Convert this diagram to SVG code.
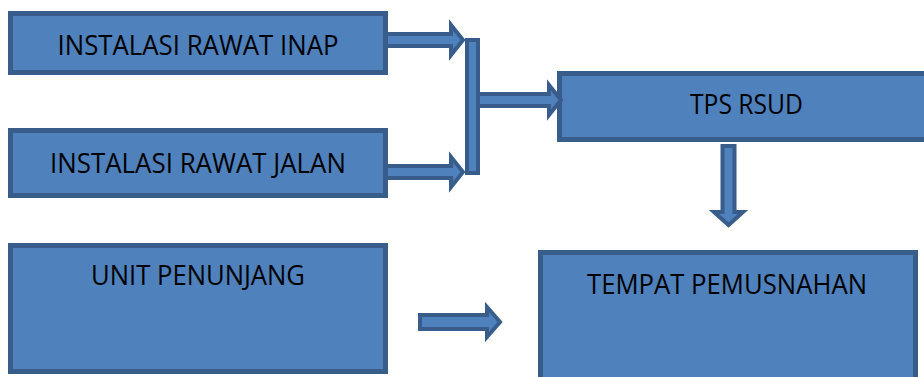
<svg xmlns="http://www.w3.org/2000/svg" width="924" height="377" viewBox="0 0 924 377">
<style>
.box{fill:#4f81bd;stroke:#385d8a;stroke-width:5}
.arr{fill:#4f81bd;stroke:#385d8a;stroke-width:4;stroke-linejoin:miter}
.t{font-family:"Open Sans","Noto Sans",sans-serif;font-size:27px;fill:#000;text-anchor:middle}
</style>
<rect x="0" y="0" width="924" height="377" fill="#fff"/>
<g id="n-inap"><rect class="box" x="10.5" y="13.5" width="375" height="59"/><text class="t" x="198" y="55" textLength="281" lengthAdjust="spacingAndGlyphs">INSTALASI RAWAT INAP</text></g>
<g id="n-jalan"><rect class="box" x="10.5" y="130.5" width="375" height="65"/><text class="t" x="198" y="173" textLength="296" lengthAdjust="spacingAndGlyphs">INSTALASI RAWAT JALAN</text></g>
<g id="n-penunjang"><rect class="box" x="10.5" y="245.5" width="375" height="126"/><text class="t" x="198" y="285" textLength="214" lengthAdjust="spacingAndGlyphs">UNIT PENUNJANG</text></g>
<g id="n-tps"><rect class="box" x="559.5" y="73.5" width="380" height="66"/><text class="t" x="746.5" y="114" textLength="113" lengthAdjust="spacingAndGlyphs">TPS RSUD</text></g>
<g id="n-pemusnahan"><rect class="box" x="540.5" y="252.5" width="375" height="140"/><text class="t" x="727" y="294" textLength="280" lengthAdjust="spacingAndGlyphs">TEMPAT PEMUSNAHAN</text></g>
<g id="connectors">
<polygon class="arr" points="386,34 451,34 451,25 463,40 451,55 451,46 386,46"/>
<polygon class="arr" points="386,166 451,166 451,157 463,172 451,187 451,178 386,178"/>
<rect class="arr" x="467" y="40" width="11" height="133"/>
<polygon class="arr" points="478,94 549,94 549,85 561,100 549,115 549,106 478,106"/>
<polygon class="arr" points="722.5,146 734.5,146 734.5,212 743,212 728.5,225 714,212 722.5,212"/>
<polygon class="arr" points="420,315 487,315 487,307 500,322 487,337 487,329 420,329"/>
</g>
</svg>
